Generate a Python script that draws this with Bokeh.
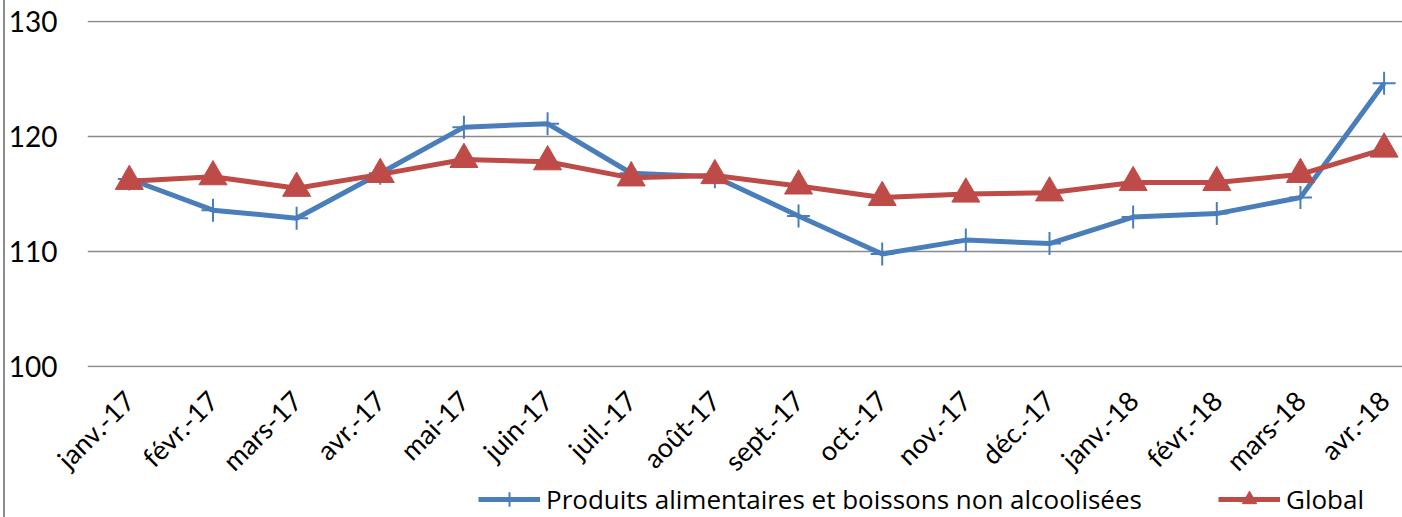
import math
from bokeh.plotting import figure
from bokeh.layouts import column
from bokeh.models import Range1d, FixedTicker, Legend, LegendItem, Label
from bokeh.embed import file_html
from bokeh.resources import INLINE

months = ["janv.-17", "févr.-17", "mars-17", "avr.-17", "mai-17", "juin-17", "juil.-17", "août-17",
          "sept.-17", "oct.-17", "nov.-17", "déc.-17", "janv.-18", "févr.-18", "mars-18", "avr.-18"]
produits = [116.3, 113.6, 112.9, 116.8, 120.8, 121.1, 116.8, 116.5,
            113.1, 109.8, 111.0, 110.7, 113.0, 113.3, 114.7, 124.6]
global_idx = [116.1, 116.5, 115.5, 116.7, 118.0, 117.8, 116.4, 116.6,
              115.7, 114.7, 115.0, 115.1, 116.0, 116.0, 116.7, 118.9]
y_ticks = [100, 110, 120, 130]
title_tail = "alcoolisées"
label_produits = "Produits alimentaires et boissons non alcoolisées"
label_global = "Global"

BLUE = "#4A7EBB"
RED = "#BE4B48"
FONT = "Lato"
LFONT = "Open Sans"

xs = list(range(len(months)))

# ---------------- main chart ----------------
p = figure(width=1397, height=493, output_backend="svg", toolbar_location=None,
           x_range=Range1d(-0.5, 15.22), y_range=Range1d(99.95, 130.05),
           min_border_left=78, min_border_right=0, min_border_top=20, min_border_bottom=126)
p.outline_line_color = None
p.background_fill_color = "white"
p.border_fill_color = "white"

p.xgrid.grid_line_color = None
p.ygrid.ticker = FixedTicker(ticks=y_ticks)
p.ygrid.grid_line_color = "#8a8a8a"
p.ygrid.grid_line_width = 1.5

p.yaxis.ticker = FixedTicker(ticks=y_ticks)
p.yaxis.axis_line_color = None
p.yaxis.major_tick_line_color = None
p.yaxis.minor_tick_line_color = None
p.yaxis.major_tick_out = 0
p.yaxis.major_tick_in = 0
p.yaxis.major_label_standoff = 30
p.yaxis.major_label_text_font = FONT
p.yaxis.major_label_text_font_size = "28px"
p.yaxis.major_label_text_color = "#000000"

p.xaxis.ticker = FixedTicker(ticks=xs)
p.xaxis.major_label_overrides = {i: m for i, m in zip(xs, months)}
p.xaxis.axis_line_color = None
p.xaxis.major_tick_line_color = None
p.xaxis.minor_tick_line_color = None
p.xaxis.major_tick_out = 0
p.xaxis.major_tick_in = 0
p.xaxis.major_label_orientation = math.pi / 4
p.xaxis.major_label_standoff = 28
p.xaxis.major_label_text_font = FONT
p.xaxis.major_label_text_font_size = "27px"
p.xaxis.major_label_text_color = "#000000"

p.line(xs, produits, line_color=BLUE, line_width=5)
p.scatter(xs, produits, marker="cross", size=23, line_color=BLUE, line_width=2)
p.line(xs, global_idx, line_color=RED, line_width=5)
p.scatter(xs, global_idx, marker="triangle", size=28, fill_color=RED, line_color=RED)

p.add_layout(Label(x=631, y=361, x_units="screen", y_units="screen", text=title_tail,
                   text_align="center", text_baseline="alphabetic", text_font=LFONT,
                   text_font_style="bold", text_font_size="24px", text_color="#000000"))

# ---------------- legend strip (series drawn off-view, only the legend shows) ----------------
lg = figure(width=1397, height=44, output_backend="svg", toolbar_location=None,
            x_range=Range1d(-100, -99), y_range=Range1d(0, 1),
            x_axis_type=None, y_axis_type=None,
            min_border_left=0, min_border_right=0, min_border_top=0, min_border_bottom=0)
lg.outline_line_color = None
lg.xgrid.grid_line_color = None
lg.ygrid.grid_line_color = None
lg.background_fill_color = None
lg.border_fill_color = None
lg.styles = {"margin-top": "-20px"}
lbl = lg.line(xs, produits, line_color=BLUE, line_width=5)
lbs = lg.scatter(xs, produits, marker="cross", size=23, line_color=BLUE, line_width=2)
lrl = lg.line(xs, global_idx, line_color=RED, line_width=5)
lrs = lg.scatter(xs, global_idx, marker="triangle", size=28, fill_color=RED, line_color=RED)

legend = Legend(items=[LegendItem(label=label_produits, renderers=[lbl, lbs]),
                       LegendItem(label=label_global, renderers=[lrl, lrs])],
                orientation="horizontal", location=(391, 0))
legend.padding = 0
legend.margin = 0
legend.spacing = 0
legend.border_line_color = None
legend.background_fill_alpha = 0
legend.glyph_width = 62
legend.glyph_height = 36
legend.label_height = 30
legend.label_width = 672
legend.label_standoff = 6
legend.label_text_font = LFONT
legend.label_text_font_size = "26px"
legend.label_text_color = "#000000"
lg.add_layout(legend, "center")

layout = column(p, lg, spacing=0)
layout.styles = {"margin-left": "3px", "border-left": "2px solid #8c8c8c"}

open("out.html", "w").write(file_html(layout, INLINE))
